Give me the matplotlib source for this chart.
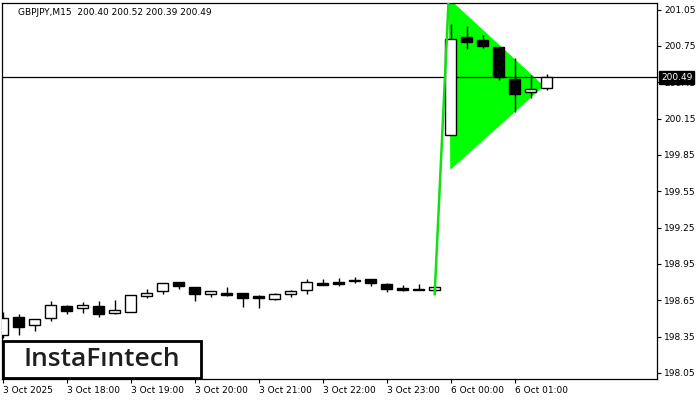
import matplotlib.pyplot as plt
from matplotlib.patches import Polygon, Rectangle

# GBPJPY M15 candles (3 Oct 17:00 ... 6 Oct 01:30)
opens = [198.36, 198.508, 198.442, 198.50, 198.602, 198.583, 198.602, 198.547, 198.555, 198.683,
         198.724, 198.799, 198.757, 198.699, 198.708, 198.708, 198.685, 198.658, 198.706, 198.735,
         198.791, 198.802, 198.811, 198.824, 198.782, 198.749, 198.743, 198.733,
         200.013, 200.822, 200.800, 200.742, 200.475, 200.368, 200.40]
highs = [198.55, 198.535, 198.494, 198.644, 198.613, 198.633, 198.644, 198.652, 198.694, 198.744,
         198.794, 198.804, 198.76, 198.726, 198.757, 198.714, 198.691, 198.708, 198.739, 198.826,
         198.826, 198.832, 198.84, 198.826, 198.791, 198.777, 198.785, 198.764,
         200.932, 200.915, 200.841, 200.745, 200.648, 200.508, 200.52]
lows = [198.335, 198.367, 198.397, 198.48, 198.533, 198.542, 198.513, 198.533, 198.555, 198.671,
        198.704, 198.741, 198.646, 198.679, 198.688, 198.596, 198.588, 198.654, 198.679, 198.704,
        198.777, 198.771, 198.791, 198.771, 198.721, 198.727, 198.731, 198.724,
        200.013, 200.728, 200.731, 200.472, 200.207, 200.323, 200.39]
closes = [198.50, 198.43, 198.492, 198.611, 198.563, 198.611, 198.538, 198.566, 198.694, 198.711,
          198.791, 198.771, 198.704, 198.724, 198.694, 198.671, 198.671, 198.699, 198.727, 198.799,
          198.779, 198.788, 198.814, 198.791, 198.741, 198.737, 198.733, 198.757,
          200.805, 200.786, 200.748, 200.494, 200.356, 200.392, 200.49]

xtick_pos = [0, 4, 8, 12, 16, 20, 24, 28, 32]
xtick_labels = ["3 Oct 2025", "3 Oct 18:00", "3 Oct 19:00", "3 Oct 20:00", "3 Oct 21:00",
                "3 Oct 22:00", "3 Oct 23:00", "6 Oct 00:00", "6 Oct 01:00"]
ytick_vals = [198.05, 198.35, 198.65, 198.95, 199.25, 199.55, 199.85, 200.15, 200.45, 200.75, 201.05]

# bullish pennant: flagpole and flag triangle (bar index, price)
pole_x = [27.0, 27.875]
pole_y = [198.70, 201.14]
flag_x = [27.875, 28.0, 33.8]
flag_y = [201.14, 199.734, 200.42]

last_price = 200.49
title = "GBPJPY,M15  200.40 200.52 200.39 200.49"

fig = plt.figure(figsize=(7, 4), dpi=100)
ax = fig.add_axes([2 / 700, 21 / 400, 655 / 700, 376 / 400])

# flag
ax.add_patch(Polygon(list(zip(flag_x, flag_y)), closed=True, facecolor="#00ff00",
                     edgecolor="#00ff00", lw=0.5, zorder=1))

# current price line
ax.axhline(last_price, color="black", lw=0.9, zorder=2)

# candles
xs = list(range(len(opens)))
ax.vlines(xs, lows, highs, color="black", lw=1, zorder=3)
for x, o, c in zip(xs, opens, closes):
    face = "white" if c >= o else "black"
    ax.bar(x, abs(c - o), bottom=min(o, c), width=0.68, color=face,
           edgecolor="black", lw=1, zorder=3)

# flagpole
ax.plot(pole_x, pole_y, color="#11e011", lw=1.8, zorder=4)

ax.set_xlim(-0.05, 40.9)
ax.set_ylim(198.0, 201.105)

ax.yaxis.tick_right()
ax.set_yticks(ytick_vals)
ax.set_yticklabels([f"{v:.2f}" for v in ytick_vals])
ax.set_xticks(xtick_pos)
ax.set_xticklabels(xtick_labels, ha="left")
ax.tick_params(axis="both", labelsize=6.5, length=3, width=0.8, pad=2)
for sp in ax.spines.values():
    sp.set_linewidth(0.9)

ax.text(0.025, 0.988, title, transform=ax.transAxes, fontsize=6.5, va="top", ha="left")

# price label box on the axis
ax.text(1.006, (last_price - 198.0) / (201.105 - 198.0), f"{last_price:.2f}",
        transform=ax.transAxes, fontsize=6.5, color="white", va="center", ha="left",
        bbox=dict(boxstyle="square,pad=0.2", facecolor="black", edgecolor="black"),
        zorder=10, clip_on=False)

# logo
fig.add_artist(Rectangle((3 / 700, 22 / 400), 198 / 700, 37 / 400, transform=fig.transFigure,
                         facecolor="white", edgecolor="black", lw=2, zorder=5))
fig.text(102 / 700, 41 / 400, "InstaF\u0131ntech", fontsize=19, family="Open Sans",
         fontweight="semibold", color="#1e1e1e", ha="center", va="center", zorder=6)

fig.savefig("out.png", dpi=100)
